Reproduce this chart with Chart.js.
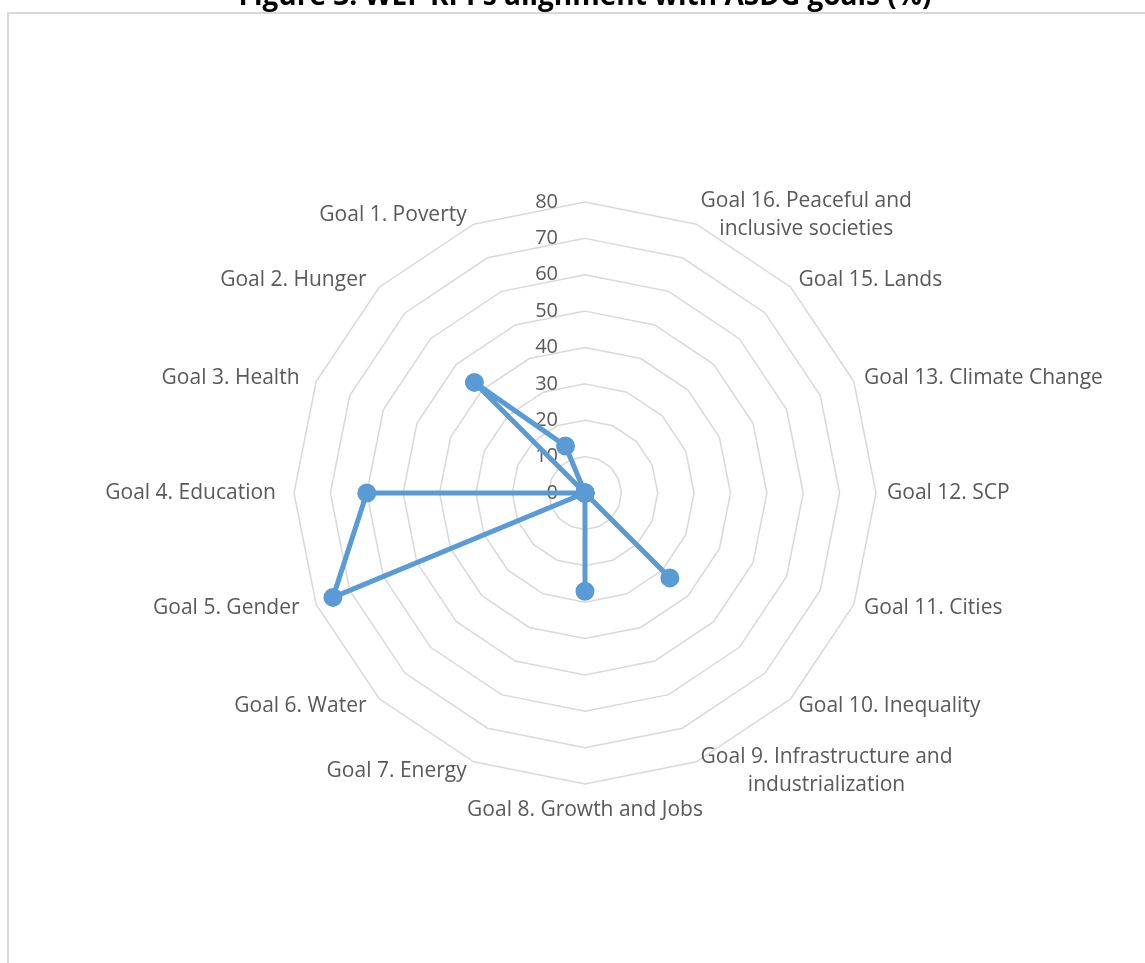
<!DOCTYPE html>
<html>
<head>
<meta charset="utf-8">
<script src="https://cdn.jsdelivr.net/npm/chart.js"></script>
<style>
  html, body { margin: 0; padding: 0; background: #fff; overflow: hidden; }
  #moldura {
    position: absolute; left: 7px; top: 12px; width: 1300px; height: 1100px;
    border-top: 2px solid #d9d9d9; border-left: 2px solid #d9d9d9;
  }
  #caixa { position: absolute; left: 0; top: -30px; width: 1145px; height: 993px; }
</style>
</head>
<body>
<div id="moldura"></div>
<div id="caixa"><canvas id="graficoRadar" width="1145" height="993"></canvas></div>
<script>
// ---------------------------------------------------------
// Dados (sentido horário a partir do topo)
// ---------------------------------------------------------
const titulo = "Figure 3. WEF KPI's alignment with ASDG goals (%)";

const objetivos = [
  "",
  ["Goal 16. Peaceful and", "inclusive societies"],
  "Goal 15. Lands",
  "Goal 13. Climate Change",
  "Goal 12. SCP",
  "Goal 11. Cities",
  "Goal 10. Inequality",
  ["Goal 9. Infrastructure and", "industrialization"],
  "Goal 8. Growth and Jobs",
  "Goal 7. Energy",
  "Goal 6. Water",
  "Goal 5. Gender",
  "Goal 4. Education",
  "Goal 3. Health",
  "Goal 2. Hunger",
  "Goal 1. Poverty",
];

const alinhamento = [0, 0, 0, 0, 0, 0, 33, 0, 27, 0, 0, 75, 60, 0, 43, 14];

const marcasEixo = [0, 10, 20, 30, 40, 50, 60, 70, 80];

const corLinha = "#5b9bd5";
const corTexto = "#595959";

// ---------------------------------------------------------
// Rótulos do eixo à esquerda da vertical (como no Excel)
// ---------------------------------------------------------
const rotulosEixo = {
  id: "rotulosEixo",
  beforeDatasetsDraw(chart) {
    const escala = chart.scales.r;
    const ctx = chart.ctx;
    ctx.save();
    ctx.font = "20px 'Open Sans'";
    ctx.fillStyle = corTexto;
    ctx.textAlign = "right";
    ctx.textBaseline = "middle";
    marcasEixo.forEach((v) => {
      const d = escala.getDistanceFromCenterForValue(v);
      ctx.fillText(String(v), escala.xCenter - 27, escala.yCenter - d);
    });
    ctx.restore();
  },
};

// ---------------------------------------------------------
// Rótulos das categorias: centrados na vertical, linhas centradas
// ---------------------------------------------------------
const rotulosObjetivos = {
  id: "rotulosObjetivos",
  afterDraw(chart) {
    const escala = chart.scales.r;
    const ctx = chart.ctx;
    const raio = escala.drawingArea;
    ctx.save();
    ctx.font = "21px 'Open Sans'";
    ctx.fillStyle = corTexto;
    ctx.textAlign = "center";
    ctx.textBaseline = "middle";
    objetivos.forEach((rotulo, i) => {
      const linhas = [].concat(rotulo).filter((l) => l);
      if (!linhas.length) return;
      const ang = escala.getIndexAngle(i);
      const s = Math.sin(ang);
      const c = Math.cos(ang);
      const largura = Math.max(...linhas.map((l) => ctx.measureText(l).width));
      let cx, y;
      if (Math.abs(s) < 0.01) {
        cx = escala.xCenter;
        y = escala.yCenter - (raio + 26) * c;
      } else {
        const folga = s < 0 ? 18 : 11;
        const x = escala.xCenter + (raio + folga) * s;
        y = escala.yCenter - (raio + 10) * c;
        cx = s < 0 ? x - largura / 2 : x + largura / 2;
      }
      linhas.forEach((l, k) => {
        ctx.fillText(l, cx, y + (k - (linhas.length - 1) / 2) * 28);
      });
    });
    ctx.restore();
  },
};

const ctx = document.getElementById("graficoRadar");

new Chart(ctx, {
  type: "radar",
  data: {
    labels: objetivos,
    datasets: [
      {
        label: "Alignment (%)",
        data: alinhamento,
        borderColor: corLinha,
        backgroundColor: corLinha,
        borderWidth: 5,
        pointRadius: 7,
        pointBackgroundColor: corLinha,
        pointBorderColor: corLinha,
        fill: false,
        tension: 0,
      },
    ],
  },
  options: {
    responsive: false,
    animation: false,
    layout: { padding: { left: 25, right: 0, top: 0, bottom: 178 } },
    plugins: {
      legend: { display: false },
      tooltip: { enabled: false },
      title: {
        display: true,
        text: titulo,
        color: "#000",
        font: { family: "'Open Sans'", size: 28, weight: "bold" },
        padding: { top: 10, bottom: 189 },
      },
    },
    scales: {
      r: {
        min: 0,
        max: 80,
        ticks: { stepSize: 10, display: false },
        angleLines: { display: false },
        grid: { color: "#d9d9d9", lineWidth: 1.5 },
        pointLabels: { display: false },
      },
    },
  },
  plugins: [rotulosEixo, rotulosObjetivos],
});
</script>
</body>
</html>
